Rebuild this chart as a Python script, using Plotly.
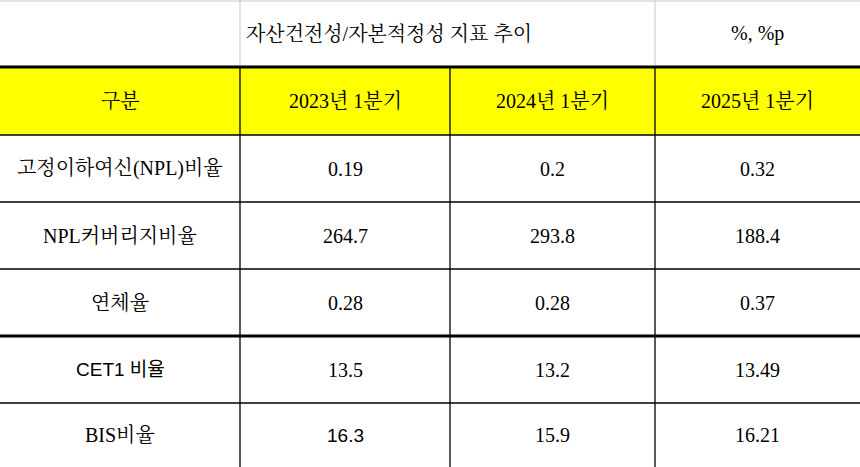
import plotly.graph_objects as go

title = "자산건전성/자본적정성 지표 추이"
unit = "%, %p"
header_first = "구분"
periods = ["2023년 1분기", "2024년 1분기", "2025년 1분기"]
indicators = ["고정이하여신(NPL)비율", "NPL커버리지비율", "연체율", "CET1 비율", "BIS비율"]
v2023 = ["0.19", "264.7", "0.28", "13.5", "16.3"]
v2024 = ["0.2", "293.8", "0.28", "13.2", "15.9"]
v2025 = ["0.32", "188.4", "0.37", "13.49", "16.21"]

W, H = 860, 467
colx = [0, 240, 450, 655, 860]
rowy = [0, 67, 135, 202, 269, 336, 403, 467]
serif = "Liberation Serif, Noto Serif CJK KR, Noto Sans CJK KR"
sans = "Liberation Sans, Noto Sans CJK KR"

fig = go.Figure()
shapes = []
shapes.append(dict(type="rect", x0=0, x1=W, y0=rowy[1], y1=rowy[2], fillcolor="#ffff00", line_width=0, layer="below"))
shapes.append(dict(type="line", x0=0, x1=W, y0=1, y1=1, line=dict(color="#c8c8c8", width=1)))
for x in (colx[1], colx[3]):
    shapes.append(dict(type="line", x0=x, x1=x, y0=0, y1=rowy[1], line=dict(color="#c8c8c8", width=1)))
for x in colx[1:4]:
    shapes.append(dict(type="line", x0=x, x1=x, y0=rowy[1], y1=H, line=dict(color="black", width=1.3)))
for i, y in enumerate(rowy[1:-1], start=1):
    w = 3 if i in (1, 5) else 1.3
    shapes.append(dict(type="line", x0=0, x1=W, y0=y, y1=y, line=dict(color="black", width=w)))

ann = []
def cell(text, c, r, font=serif, size=20, xanchor="center", x=None):
    cx = (colx[c] + colx[c + 1]) / 2 if x is None else x
    cy = (rowy[r] + rowy[r + 1]) / 2
    ann.append(dict(x=cx, y=cy, text=text, showarrow=False, xanchor=xanchor, yanchor="middle",
                    font=dict(family=font, size=size, color="black")))

cell(title, 1, 0, xanchor="left", x=colx[1] + 4)
cell(unit, 3, 0)
cell(header_first, 0, 1)
for j, p in enumerate(periods):
    cell(p, j + 1, 1)
for i, name in enumerate(indicators):
    f = sans if name.startswith("CET1") else serif
    cell(name, 0, i + 2, font=f, size=19 if f == sans else 20)
    for j, col in enumerate([v2023, v2024, v2025]):
        f2 = sans if (j == 0 and i == 4) else serif
        cell(col[i], j + 1, i + 2, font=f2, size=19 if f2 == sans else 20)

fig.update_layout(width=W, height=H, margin=dict(l=0, r=0, t=0, b=0),
                  plot_bgcolor="white", paper_bgcolor="white",
                  xaxis=dict(range=[0, W], visible=False, fixedrange=True),
                  yaxis=dict(range=[H, 0], visible=False, fixedrange=True),
                  shapes=shapes, annotations=ann, showlegend=False)
fig.write_html("out.html", config={"displayModeBar": False})
with open("out.html", encoding="utf-8") as fh:
    html = fh.read()
html = html.replace("<head>", "<head><style>html,body{margin:0;padding:0;overflow:hidden}</style>", 1)
with open("out.html", "w", encoding="utf-8") as fh:
    fh.write(html)
